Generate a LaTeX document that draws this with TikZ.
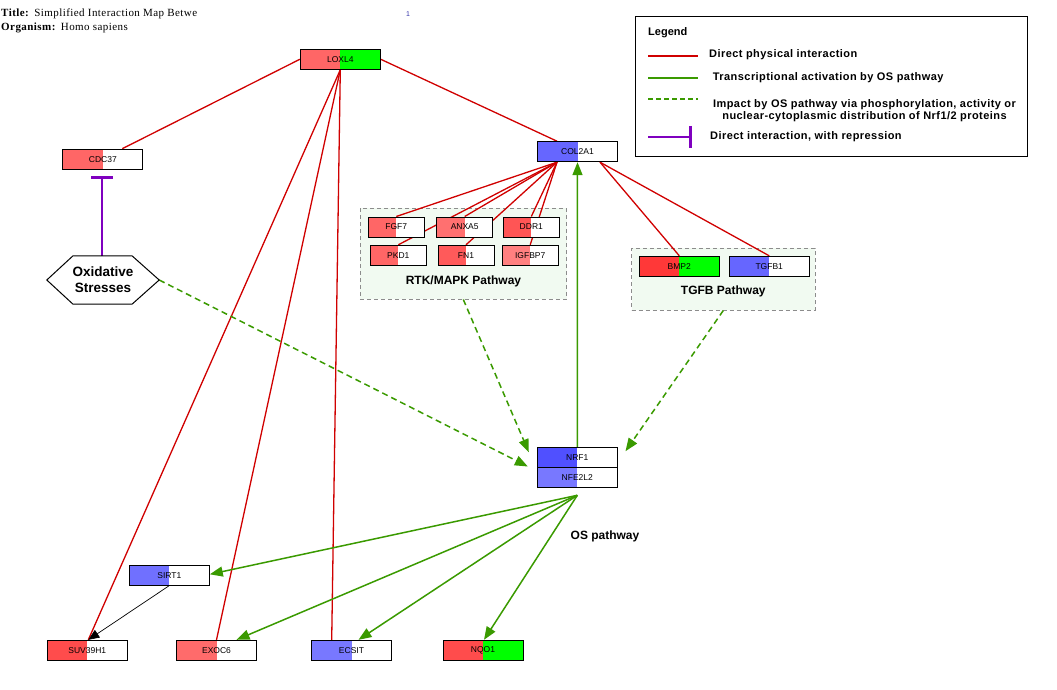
\documentclass[tikz,border=0pt]{standalone}
\usepackage{fontspec}
\setmainfont{Liberation Sans}
\newfontfamily\titlefont[LetterSpace=4]{Liberation Serif}
\newfontfamily\legfont[LetterSpace=4]{Liberation Sans}
\usetikzlibrary{arrows.meta}

\definecolor{physred}{HTML}{D00000}
\definecolor{actgreen}{HTML}{3A9A00}
\definecolor{reprpurple}{HTML}{7F00BF}
\definecolor{grpfill}{HTML}{F1FAF1}
\definecolor{grpline}{HTML}{8C8C8C}
\definecolor{rA}{HTML}{FF6666}
\definecolor{rB}{HTML}{FF7070}
\definecolor{rC}{HTML}{FF5555}
\definecolor{rD}{HTML}{FF5A5A}
\definecolor{rE}{HTML}{FF8080}
\definecolor{rF}{HTML}{FF3838}
\definecolor{rG}{HTML}{FF4C4C}
\definecolor{rH}{HTML}{FF6B6B}
\definecolor{bA}{HTML}{6666FF}
\definecolor{bB}{HTML}{5050FF}
\definecolor{bC}{HTML}{7878FF}
\definecolor{bD}{HTML}{7070FF}
\definecolor{gA}{HTML}{00FF00}
\definecolor{pagenum}{HTML}{3333AA}

\pgfdeclarelayer{groups}
\pgfdeclarelayer{edges}
\pgfsetlayers{groups,edges,main}

\tikzset{
  gene/.style={draw=black, line width=1pt, minimum width=80pt, minimum height=20pt,
    inner sep=0pt, font=\fontsize{8.5}{9}\selectfont},
  small/.style={gene, minimum width=56pt},
  split/.style 2 args={path picture={
    \fill[#1] (path picture bounding box.south west) rectangle (path picture bounding box.north);
    \fill[#2] (path picture bounding box.south) rectangle (path picture bounding box.north east);}},
  group/.style={draw=grpline, fill=grpfill, dash pattern=on 4pt off 3pt, line width=0.9pt, inner sep=0pt},
  grplabel/.style={font=\bfseries\fontsize{12}{12}\selectfont, inner sep=0pt},
  phys/.style={draw=physred, line width=1.3pt},
  act/.style={draw=actgreen, line width=1.5pt, -{Triangle[length=13pt,width=10pt]}},
  impact/.style={act, dash pattern=on 6pt off 4pt},
  repress/.style={draw=reprpurple, line width=1.6pt, -{Bar[width=22pt,line width=3pt]}},
  plainarrow/.style={draw=black, line width=0.7pt, -{Triangle[length=11pt,width=9pt]}},
  legtext/.style={anchor=west, font=\legfont\bfseries\fontsize{11}{13}\selectfont, inner sep=0pt},
}

\begin{document}
\begin{tikzpicture}[x=1pt,y=-1pt]
\useasboundingbox (0,0) rectangle (1057,690);

% header
\node[anchor=base west, inner sep=0pt, font=\titlefont\fontsize{11}{12}\selectfont] (ttl) at (1,16.5) {\textbf{Title:}\hspace{5pt}Simplified Interaction Map Betwe};
\node[anchor=base west, inner sep=0pt, font=\titlefont\fontsize{11}{12}\selectfont] (org) at (1,30.5) {\textbf{Organism:}\hspace{5pt}Homo sapiens};
\node[inner sep=0pt, text=pagenum, font=\fontsize{7}{8}\selectfont] (pg) at (408,14) {1};

% pathway groups
\begin{pgfonlayer}{groups}
\node[group, minimum width=206.7pt, minimum height=90.7pt] (rtk) at (463.3,253.7) {};
\node[group, minimum width=183.3pt, minimum height=61.7pt] (tgfb) at (723.3,279.2) {};
\end{pgfonlayer}
\node[grplabel] (rtklab) at (463.5,281) {RTK/MAPK Pathway};
\node[grplabel] (tgfblab) at (723.3,291.7) {TGFB Pathway};
\node[grplabel] (oslab) at (605,536.7) {OS pathway};

% genes
\node[gene, split={rA}{gA}] (lox) at (340.3,59.3) {LOXL4};
\node[gene, split={rA}{white}] (cdc) at (102.8,159.2) {CDC37};
\node[gene, split={bA}{white}] (col) at (577.5,151.7) {COL2A1};
\node[small, split={rA}{white}] (fgf) at (396.3,227) {FGF7};
\node[small, split={rB}{white}] (anx) at (464.7,227) {ANXA5};
\node[small, split={rC}{white}] (ddr) at (531.3,227) {DDR1};
\node[small, split={rA}{white}] (pkd) at (398.3,255.3) {PKD1};
\node[small, split={rD}{white}] (fn) at (466,255.3) {FN1};
\node[small, split={rE}{white}] (igf) at (530.2,255.3) {IGFBP7};
\node[gene, split={rF}{gA}] (bmp) at (679.3,266.3) {BMP2};
\node[gene, split={bA}{white}] (tgf) at (769.2,266.3) {TGFB1};
\node[gene, split={bB}{white}] (nrf) at (577.3,457.3) {NRF1};
\node[gene, split={bC}{white}] (nfe) at (577.3,477.3) {NFE2L2};
\node[gene, split={bD}{white}] (sirt) at (169.3,575.3) {SIRT1};
\node[gene, split={rG}{white}] (suv) at (87.3,650.3) {SUV39H1};
\node[gene, split={rH}{white}] (exo) at (216.5,650.3) {EXOC6};
\node[gene, split={bC}{white}] (ecs) at (351.5,650.3) {ECSIT};
\node[gene, split={rG}{gA}] (nqo) at (483,650.3) {NQO1};

% oxidative stresses hexagon
\node[minimum width=112pt, minimum height=48pt, inner sep=0pt, align=center,
  font=\bfseries\fontsize{13.5}{16}\selectfont] (ox) at (103,280) {Oxidative\\Stresses};
\draw[line width=1pt] (ox.west) -- ([xshift=-30pt]ox.north) -- ([xshift=29pt]ox.north)
  -- (ox.east) -- ([xshift=29pt]ox.south) -- ([xshift=-30pt]ox.south) -- cycle;

\coordinate (fan) at ([yshift=-7.5pt]nfe.south);

\begin{pgfonlayer}{edges}
% direct physical interactions
\draw[phys] (lox.west) -- ([xshift=19.5pt]cdc.north);
\draw[phys] (lox.east) -- ([xshift=-20.5pt]col.north);
\draw[phys] (lox.south) -- ([xshift=1pt]suv.north);
\draw[phys] (lox.south) -- (exo.north);
\draw[phys] (lox.south) -- ([xshift=-19.8pt]ecs.north);
\foreach \t in {fgf,pkd,anx,fn,ddr,igf}
  \draw[phys] ([xshift=-20.5pt]col.south) -- (\t.north);
\draw[phys] ([xshift=22.5pt]col.south) -- (bmp.north);
\draw[phys] ([xshift=22.5pt]col.south) -- (tgf.north);

% transcriptional activation
\draw[act] (nrf.north) -- (col.south);
\draw[act] (fan) -- ([yshift=1pt]sirt.east);
\draw[act] (fan) -- ([xshift=20pt]exo.north);
\draw[act] (fan) -- ([xshift=7pt]ecs.north);
\draw[act] (fan) -- ([xshift=1pt]nqo.north);

% impact via phosphorylation / distribution
\draw[impact] (ox.east) -- ([xshift=-9pt,yshift=1.3pt]nrf.south west);
\draw[impact] (rtk.south) -- ([xshift=-8pt,yshift=-5.4pt]nrf.north west);
\draw[impact] (tgfb.south) -- ([xshift=7.7pt,yshift=-4.4pt]nrf.north east);

% repression and plain arrow
\draw[repress] ([xshift=-1pt]ox.north) -- ([xshift=-0.8pt,yshift=-6pt]cdc.south);
\draw[plainarrow] ([xshift=-0.3pt]sirt.south) -- ([xshift=1pt]suv.north);
\end{pgfonlayer}

% legend
\node[draw=black, line width=1pt, minimum width=391.3pt, minimum height=139pt, inner sep=0pt] (leg) at (831.5,86.5) {};
\node[anchor=west, inner sep=0pt, font=\bfseries\fontsize{11}{12}\selectfont] (legtitle) at (648,33) {Legend};
\coordinate (l1a) at (648,56);   \coordinate (l1b) at (698,56);
\coordinate (l2a) at (648,78);   \coordinate (l2b) at (698,78);
\coordinate (l3a) at (648,99);   \coordinate (l3b) at (698,99);
\coordinate (l4a) at (648,137);  \coordinate (l4b) at (692,137);
\fill[physred] ([yshift=0.8pt]l1a) rectangle ([yshift=-0.8pt]l1b);
\fill[actgreen] ([yshift=0.8pt]l2a) rectangle ([yshift=-0.8pt]l2b);
\draw[actgreen, line width=1.6pt, dash pattern=on 5pt off 3pt] (l3a) -- (l3b);
\draw[repress] (l4a) -- (l4b);
\node[legtext] (t1) at (709,55) {Direct physical interaction};
\node[legtext] (t2) at (712.7,77.7) {Transcriptional activation by OS pathway};
\node[inner sep=0pt, align=center, font=\legfont\bfseries\fontsize{11}{12.2}\selectfont] (t3) at (864.5,110.8)
  {Impact by OS pathway via phosphorylation, activity or\\nuclear-cytoplasmic distribution of Nrf1/2 proteins};
\node[legtext] (t4) at (710,136.7) {Direct interaction, with repression};
\end{tikzpicture}
\end{document}
